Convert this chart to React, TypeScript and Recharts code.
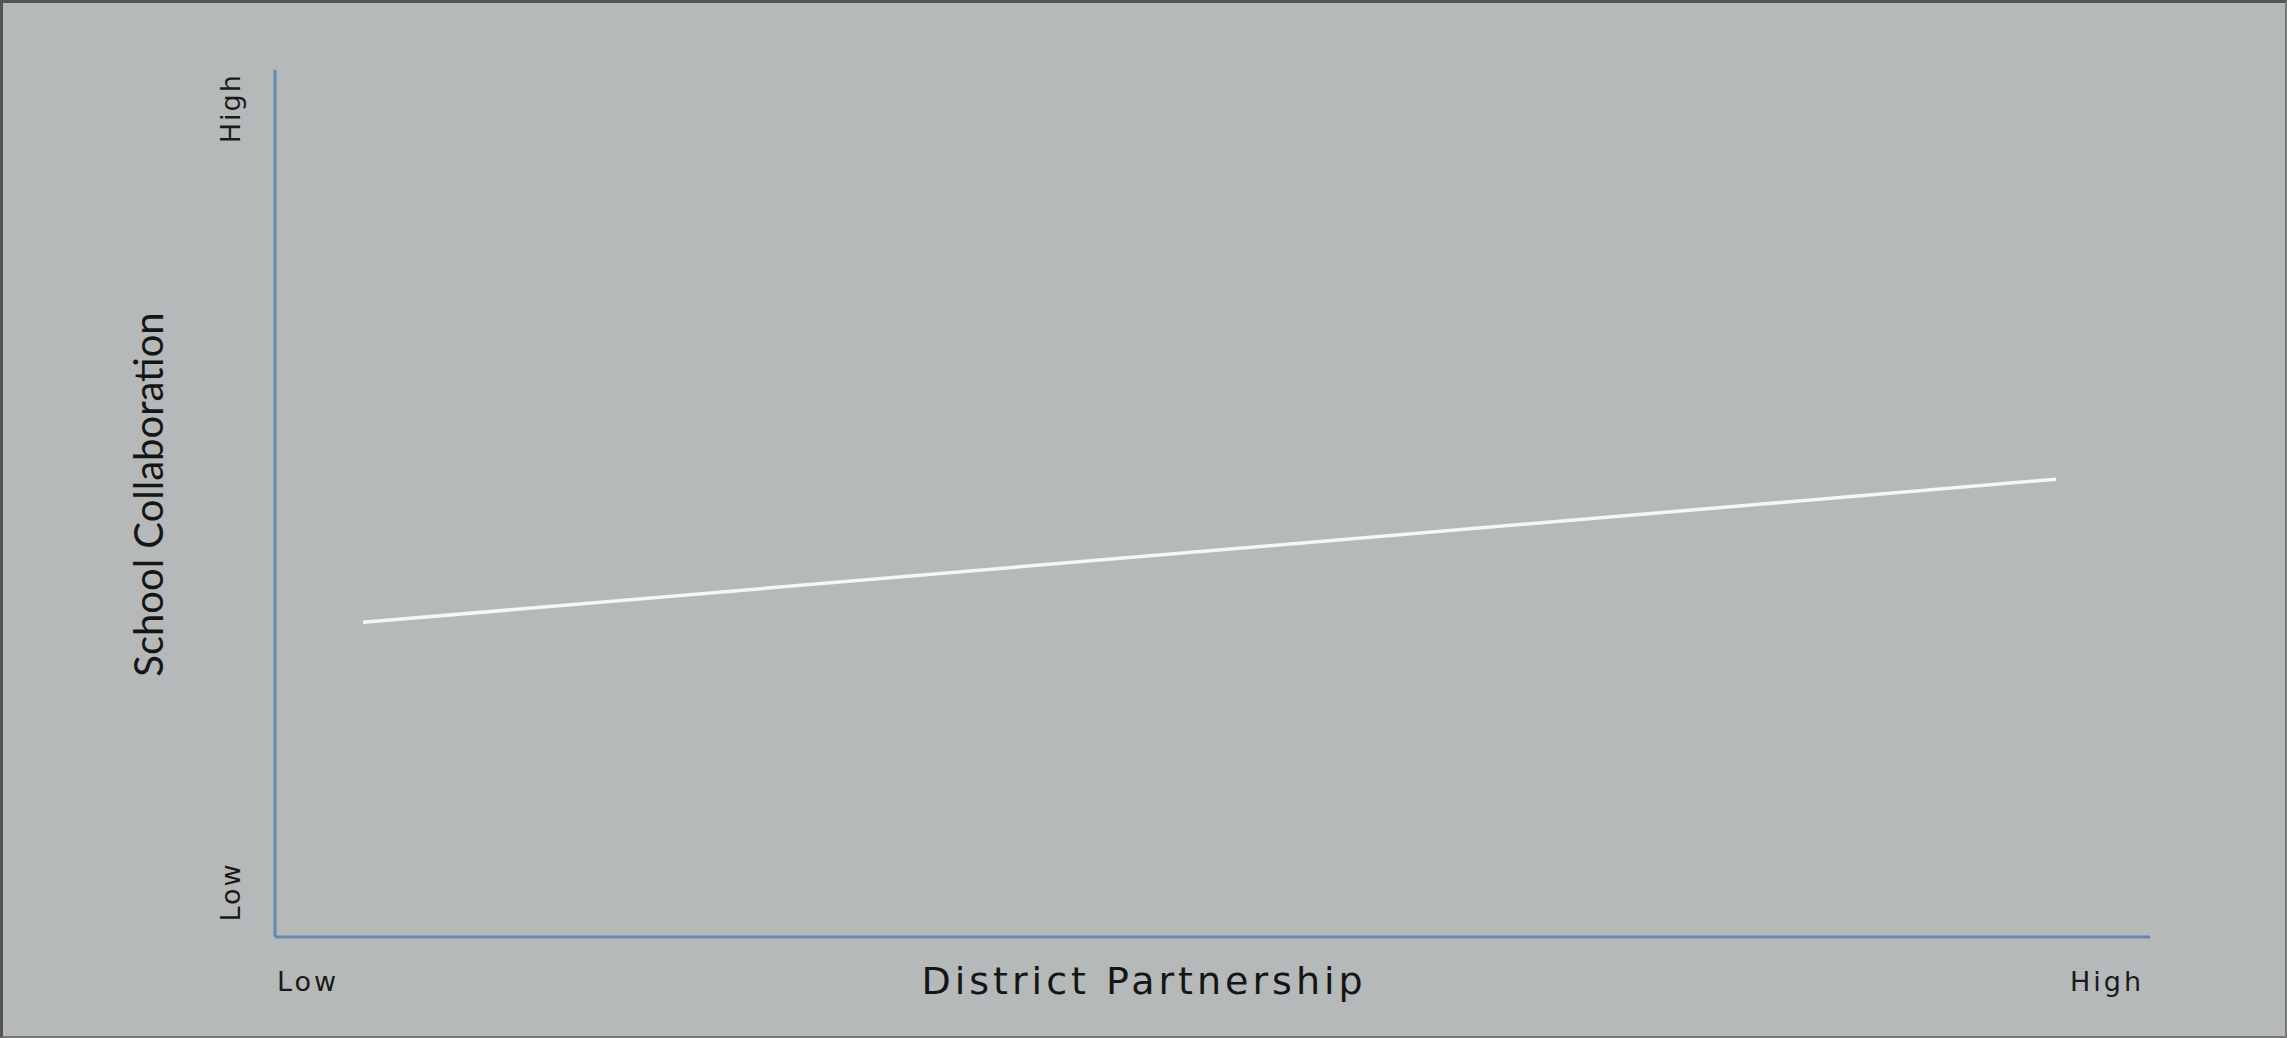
import { Label, Line, LineChart, XAxis, YAxis } from "recharts";

// relationship between district partnership and school collaboration
const partnership = [0.047, 0.95];
const collaboration = [0.363, 0.528];

const xTickValues = [0, 1];
const xTickLabels = ["Low", "High"];
const yTickValues = [0.052, 0.956];
const yTickLabels = ["Low", "High"];

const data = partnership.map((x, i) => ({ x, y: collaboration[i] }));

const W = 2287;
const H = 1038;
const BG = "#b6b9b9";
const AXIS = "#6389b2";
const TICK_FONT = "'DejaVu Sans', Verdana, sans-serif";
const TITLE_FONT = "'DejaVu Sans', sans-serif";
const YTITLE_FONT = "Lato, 'Open Sans', sans-serif";

function XTick({ x, y, payload, index }: any) {
  const anchor = index === 0 ? "start" : "end";
  return (
    <text
      x={index === 0 ? x + 2 : x - 6}
      y={y + 46}
      textAnchor={anchor}
      fontFamily={TICK_FONT}
      fontSize={27}
      letterSpacing={3}
      fill="#1a1a1a"
    >
      {xTickLabels[xTickValues.indexOf(payload.value)]}
    </text>
  );
}

function YTick({ x, y, payload }: any) {
  const cx = x - 36;
  return (
    <text
      x={cx}
      y={y}
      transform={`rotate(-90 ${cx} ${y})`}
      textAnchor="middle"
      dominantBaseline="central"
      fontFamily={TICK_FONT}
      fontSize={27}
      letterSpacing={2}
      fill="#1a1a1a"
    >
      {yTickLabels[yTickValues.indexOf(payload.value)]}
    </text>
  );
}

function XTitle({ viewBox }: any) {
  const cx = viewBox.x + viewBox.width * 0.4635;
  return (
    <text
      x={cx}
      y={viewBox.y + 44}
      textAnchor="middle"
      dominantBaseline="central"
      fontFamily={TITLE_FONT}
      fontSize={38}
      letterSpacing={4}
      fill="#151515"
    >
      District Partnership
    </text>
  );
}

function YTitle({ viewBox }: any) {
  const cx = viewBox.x + 148;
  const cy = viewBox.y + viewBox.height / 2 - 9;
  return (
    <text
      x={cx}
      y={cy}
      transform={`rotate(-90 ${cx} ${cy})`}
      textAnchor="middle"
      dominantBaseline="central"
      fontFamily={YTITLE_FONT}
      fontSize={40}
      fill="#151515"
    >
      School Collaboration
    </text>
  );
}

export default function App() {
  return (
    <div
      style={{
        position: "absolute",
        left: 0,
        top: 0,
        width: W,
        height: H,
        background: BG,
        overflow: "hidden",
      }}
    >
      <LineChart
        width={W}
        height={H}
        data={data}
        margin={{ top: 70, right: 137, bottom: 0, left: 0 }}
      >
        <XAxis
          dataKey="x"
          type="number"
          domain={[0, 1]}
          ticks={xTickValues}
          tick={<XTick />}
          tickLine={false}
          axisLine={{ stroke: AXIS, strokeWidth: 3 }}
          height={101}
        >
          <Label content={<XTitle />} />
        </XAxis>
        <YAxis
          dataKey="y"
          type="number"
          domain={[0, 1]}
          ticks={yTickValues}
          tick={<YTick />}
          tickLine={false}
          axisLine={{ stroke: AXIS, strokeWidth: 3 }}
          width={275}
        >
          <Label content={<YTitle />} />
        </YAxis>
        <Line
          dataKey="y"
          stroke="#f6f6f4"
          strokeWidth={3.5}
          dot={false}
          isAnimationActive={false}
        />
      </LineChart>
      <div
        style={{
          position: "absolute",
          inset: 0,
          border: "3px solid #555",
          borderRight: "2px solid #777",
          borderBottom: "2px solid #777",
          pointerEvents: "none",
        }}
      />
    </div>
  );
}
